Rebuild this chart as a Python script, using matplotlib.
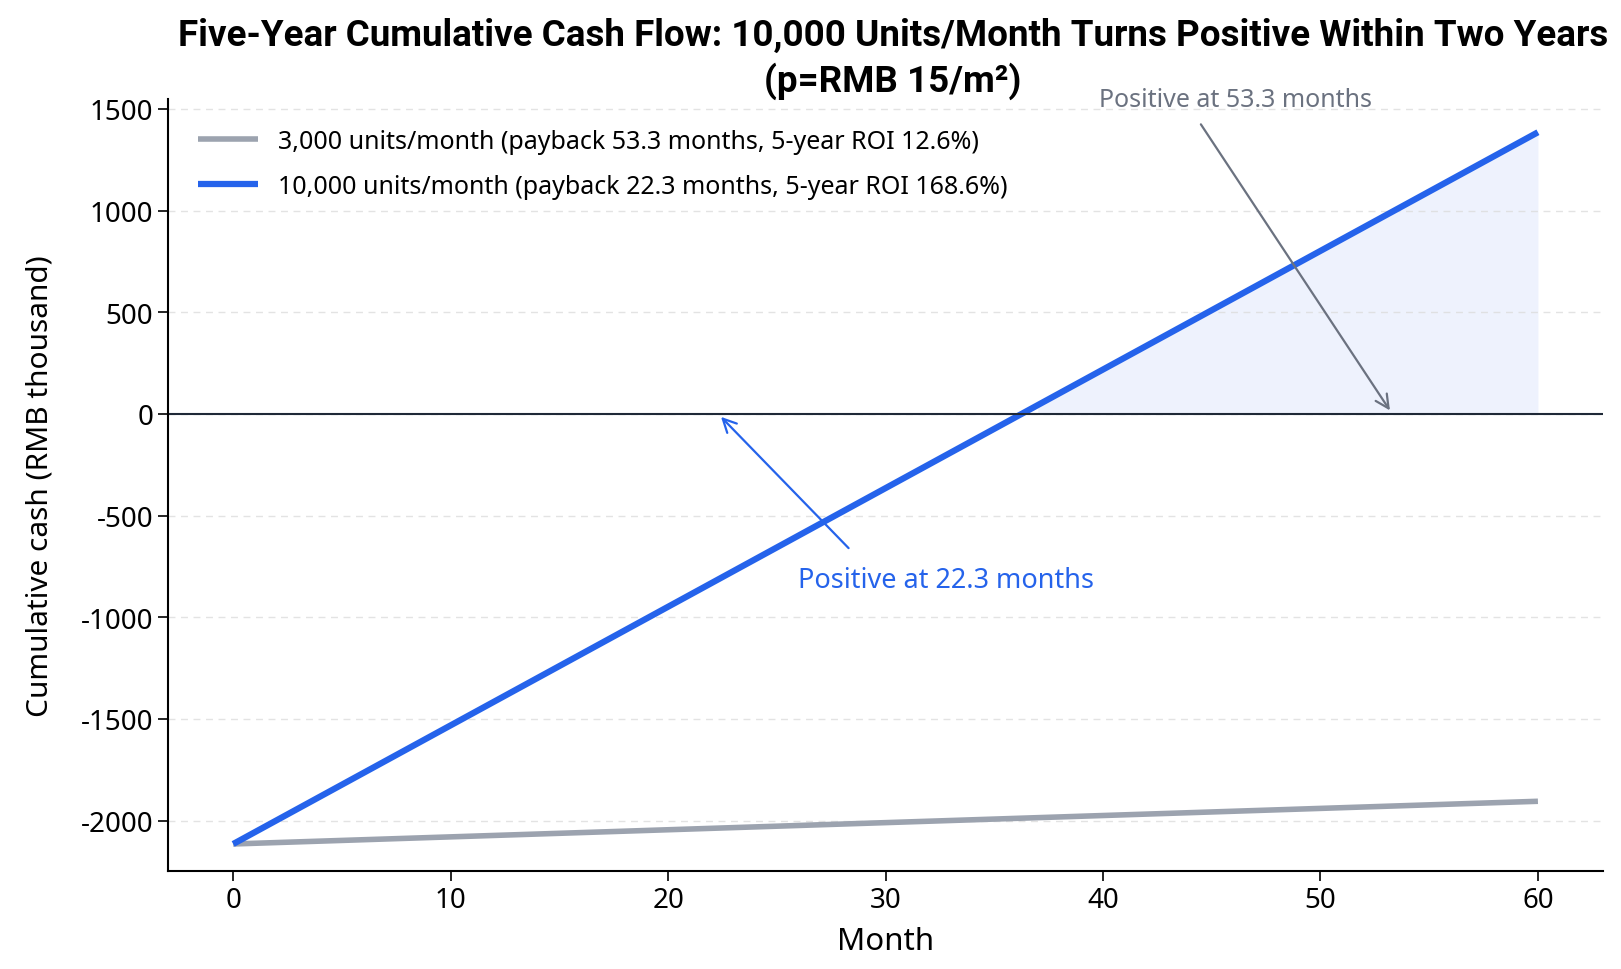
import numpy as np
import matplotlib.pyplot as plt

plt.rcParams['font.family'] = ['Noto Sans', 'DejaVu Sans']
plt.rcParams['axes.unicode_minus'] = False

# monthly cumulative cash, RMB thousand
months = np.arange(0, 61)
start_cash = -2115
end_low = -1905      # 3,000 units/month at month 60
end_high = 1385      # 10,000 units/month at month 60
cash_low = start_cash + (end_low - start_cash) * months / 60
cash_high = start_cash + (end_high - start_cash) * months / 60

label_low = '3,000 units/month (payback 53.3 months, 5-year ROI 12.6%)'
label_high = '10,000 units/month (payback 22.3 months, 5-year ROI 168.6%)'
payback_high = 22.3
payback_low = 53.3

blue = '#2563eb'
gray = '#9ca3af'
dark_gray = '#6b7280'

fig, ax = plt.subplots(figsize=(16.21, 9.70), dpi=100)

ax.plot(months, cash_low, color=gray, lw=4, label=label_low, solid_capstyle='butt')
ax.plot(months, cash_high, color=blue, lw=4.5, label=label_high, solid_capstyle='butt')
ax.fill_between(months, 0, cash_high, where=cash_high > 0, color='#c7d7fa', alpha=0.3, lw=0)
ax.axhline(0, color='#1f2937', lw=1.5)

# annotations: text and arrow drawn separately
ax.text(32.8, -815, 'Positive at 22.3 months', ha='center', va='center', color=blue, fontsize=19.5)
ax.annotate('', xy=(payback_high, 0), xytext=(28.3, -660),
            arrowprops=dict(arrowstyle='->', color=blue, lw=1.6, mutation_scale=24, shrinkA=0, shrinkB=3))
ax.text(46.1, 1548, 'Positive at 53.3 months', ha='center', va='center', color=dark_gray, fontsize=18)
ax.annotate('', xy=(payback_low, 0), xytext=(44.5, 1424),
            arrowprops=dict(arrowstyle='->', color=dark_gray, lw=1.6, mutation_scale=24, shrinkA=0, shrinkB=3))

ax.set_xlim(-3, 63)
ax.set_ylim(-2248, 1549)
ax.set_xticks(range(0, 61, 10))
ax.set_yticks(range(-2000, 1501, 500))
ax.tick_params(labelsize=20, length=7, width=1.2)
ax.grid(axis='y', ls=(0, (5, 4)), color='#dcdcdc', lw=1, alpha=0.8)
ax.spines[['top', 'right']].set_visible(False)
ax.spines[['left', 'bottom']].set_linewidth(1.5)

ax.set_xlabel('Month', fontsize=22.5, labelpad=9)
ax.set_ylabel('Cumulative cash (RMB thousand)', fontsize=21.5, labelpad=19)
ax.set_title('Five-Year Cumulative Cash Flow: 10,000 Units/Month Turns Positive Within Two Years\n(p=RMB 15/m²)',
             fontsize=26.5, fontweight='bold', family=['Roboto', 'DejaVu Sans'], pad=4, linespacing=1.27,
             x=0.505)
ax.legend(loc='upper left', fontsize=18, frameon=False, handlelength=2.4, labelspacing=0.8,
          borderaxespad=0.8)

plt.subplots_adjust(left=0.1036, right=0.989, top=0.897, bottom=0.101)
plt.savefig('out.png', dpi=100)
